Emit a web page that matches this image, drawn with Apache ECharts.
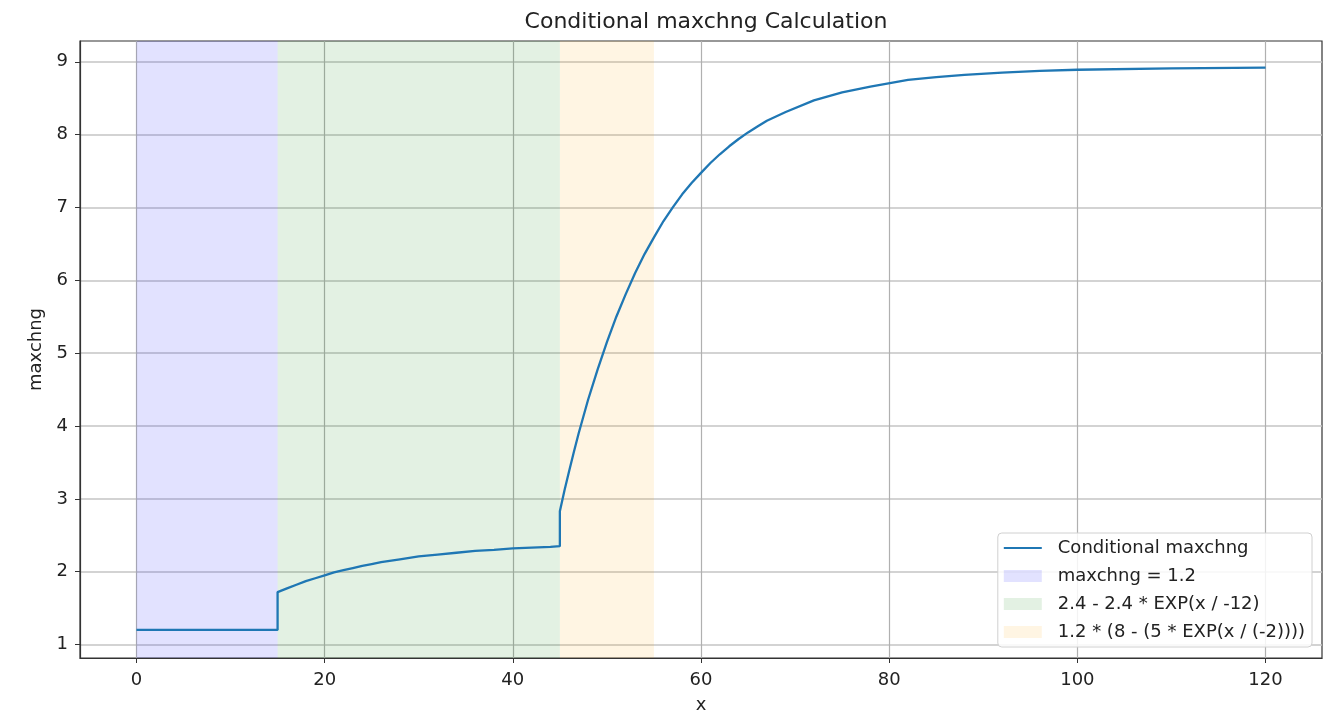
<!DOCTYPE html>
<html>
<head>
<meta charset="utf-8">
<script src="https://cdn.jsdelivr.net/npm/echarts@6/dist/echarts.min.js"></script>
<style>
html,body{margin:0;padding:0;background:#fff;}
#chart{width:1330px;height:714px;}
</style>
</head>
<body>
<div id="chart"></div>
<script>
// ---- data ----
const xValues = [0, 15, 15, 16, 17, 18, 19, 20, 21, 22, 23, 24, 25, 26, 28, 30, 32, 34, 36, 38, 40, 42, 44, 45,
  45, 45.5, 46, 46.5, 47, 48, 49, 50, 51, 52, 53, 54, 55, 56, 57, 58, 59, 60, 61, 62, 63, 64, 65, 66, 67, 69, 72, 75, 78, 82, 85, 88, 92, 96, 100, 110, 120];
const yValues = [1.2, 1.2, 1.72, 1.77, 1.82, 1.87, 1.91, 1.95, 1.99, 2.02, 2.05, 2.08, 2.105, 2.13, 2.17, 2.21, 2.235, 2.26, 2.285, 2.30, 2.32, 2.33, 2.34, 2.35,
  2.83, 3.12, 3.39, 3.65, 3.90, 4.36, 4.77, 5.15, 5.50, 5.81, 6.10, 6.36, 6.59, 6.81, 7.00, 7.18, 7.335, 7.475, 7.61, 7.73, 7.84, 7.94, 8.03, 8.11, 8.19, 8.31, 8.47, 8.58, 8.66, 8.75, 8.79, 8.82, 8.85, 8.875, 8.89, 8.91, 8.92];
const regionNames = ['maxchng = 1.2', '2.4 - 2.4 * EXP(x / -12)', '1.2 * (8 - (5 * EXP(x / (-2))))'];
const regionStart = [0, 15, 45];
const regionEnd = [15, 45, 55];
const regionColors = ['rgba(0,0,255,0.115)', 'rgba(0,128,0,0.11)', 'rgba(255,165,0,0.11)'];
const xTicks = [0, 20, 40, 60, 80, 100, 120];
const yTicks = [1, 2, 3, 4, 5, 6, 7, 8, 9];
const lineName = 'Conditional maxchng';
const titleText = 'Conditional maxchng Calculation';

const chart = echarts.init(document.getElementById('chart'), null, {renderer: 'canvas'});
const font = 'DejaVu Sans';

const lineData = xValues.map((x, i) => [x, yValues[i]]);

const regionSeries = regionNames.map((n, i) => ({
  name: n,
  type: 'bar',
  data: [],
  color: regionColors[i],
  itemStyle: {color: regionColors[i]},
  markArea: {
    silent: true,
    itemStyle: {color: regionColors[i]},
    data: [[{xAxis: regionStart[i]}, {xAxis: regionEnd[i]}]]
  }
}));

const option = {
  animation: false,
  backgroundColor: '#fff',
  textStyle: {fontFamily: font},
  title: {
    text: titleText,
    left: 701, top: 6, textAlign: 'center',
    textStyle: {fontFamily: font, fontSize: 22, fontWeight: 'normal', color: '#222'}
  },
  grid: {left: 80, right: 8, top: 41, bottom: 56, outerBoundsMode: 'none', containLabel: false,
    show: true, borderColor: '#333', borderWidth: 1.2, backgroundColor: 'transparent'},
  legend: {
    orient: 'vertical',
    right: 18, bottom: 67,
    backgroundColor: 'rgba(255,255,255,0.85)',
    borderColor: '#d0d0d0', borderWidth: 1, borderRadius: 4,
    padding: [6, 7, 6, 5],
    itemGap: 10,
    itemWidth: 38, itemHeight: 12,
    textStyle: {fontFamily: font, fontSize: 18, color: '#222', padding: [0, 0, 0, 11]},
    data: [{name: lineName, itemStyle: {opacity: 0}}].concat(regionNames.map(n => ({name: n, icon: 'rect'})))
  },
  xAxis: {
    type: 'value',
    min: -6, max: 126,
    splitNumber: 6,
    name: 'x', nameLocation: 'middle', nameGap: 38,
    nameTextStyle: {fontFamily: font, fontSize: 18, color: '#222'},
    axisLine: {show: true, onZero: false, lineStyle: {color: '#333', width: 1.2}},
    axisTick: {show: true, length: 5, customValues: xTicks, lineStyle: {color: '#333'}},
    axisLabel: {customValues: xTicks, margin: 13, fontFamily: font, fontSize: 18, color: '#222'},
    splitLine: {show: true, lineStyle: {color: '#b0b0b0', width: 1.2}}
  },
  yAxis: {
    type: 'value',
    min: 0.815, max: 9.285,
    splitNumber: 8,
    name: 'maxchng', nameLocation: 'middle', nameGap: 35,
    nameTextStyle: {fontFamily: font, fontSize: 18, color: '#222'},
    axisLine: {show: true, onZero: false, lineStyle: {color: '#333', width: 1.2}},
    axisTick: {show: true, length: 5, customValues: yTicks, lineStyle: {color: '#333'}},
    axisLabel: {customValues: yTicks, margin: 12, fontFamily: font, fontSize: 18, color: '#222'},
    splitLine: {show: true, lineStyle: {color: '#c4c4c4', width: 1.5}}
  },
  series: regionSeries.concat([{
    name: lineName,
    type: 'line',
    symbol: 'none',
    z: 5,
    color: '#1f77b4',
    lineStyle: {color: '#1f77b4', width: 2.3},
    data: lineData
  }])
};
chart.setOption(option);
</script>
</body>
</html>
